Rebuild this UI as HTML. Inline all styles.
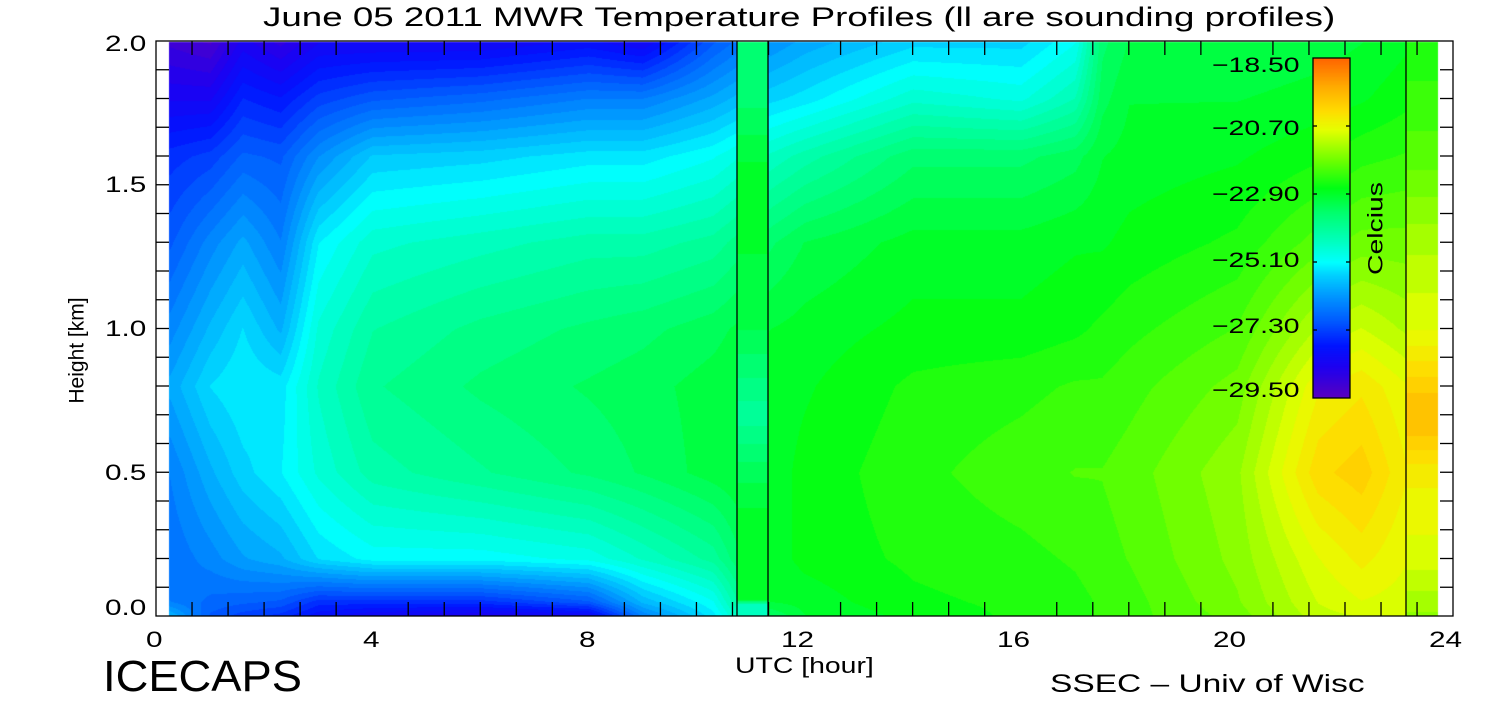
<!DOCTYPE html>
<html><head><meta charset="utf-8">
<style>
body{margin:0;background:#fff;width:1500px;height:700px;overflow:hidden;position:relative;font-family:"Liberation Sans",sans-serif;}
.t{position:absolute;color:#000;white-space:nowrap;line-height:1;transform-origin:left top;transform:scaleX(1.35);}
canvas{position:absolute;left:0;top:0;}
</style></head><body>
<canvas id="c" width="1500" height="700"></canvas>
<svg width="1500" height="700" style="position:absolute;left:0;top:0">
<g id="ax" stroke="#000" stroke-width="1.3" fill="none"></g>
</svg>
<div class="t" style="left:263px;top:4px;font-size:27px;transform:scaleX(1.36)">June 05 2011 MWR Temperature Profiles (ll are sounding profiles)</div>
<div class="t" style="left:105px;top:33px;font-size:22px">2.0</div>
<div class="t" style="left:105px;top:174px;font-size:22px">1.5</div>
<div class="t" style="left:105px;top:318px;font-size:22px">1.0</div>
<div class="t" style="left:105px;top:462px;font-size:22px">0.5</div>
<div class="t" style="left:105px;top:597px;font-size:22px">0.0</div>
<div class="t" style="left:146px;top:629px;font-size:22px">0</div>
<div class="t" style="left:363px;top:629px;font-size:22px">4</div>
<div class="t" style="left:579px;top:629px;font-size:22px">8</div>
<div class="t" style="left:781px;top:629px;font-size:22px">12</div>
<div class="t" style="left:997px;top:629px;font-size:22px">16</div>
<div class="t" style="left:1213px;top:629px;font-size:22px">20</div>
<div class="t" style="left:1429px;top:629px;font-size:22px">24</div>
<div class="t" style="left:735px;top:655px;font-size:22px;transform:scaleX(1.29)">UTC [hour]</div>
<div class="t" style="left:103px;top:655px;font-size:44px;transform:scaleX(1.03)">ICECAPS</div>
<div class="t" style="left:1050px;top:672px;font-size:25px;transform:scaleX(1.34)">SSEC – Univ of Wisc</div>
<div class="t" style="left:22px;top:340px;font-size:21px;transform:rotate(-90deg);transform-origin:center;width:110px;text-align:center">Height [km]</div>
<div class="t" style="left:1336px;top:218px;font-size:21px;transform:rotate(-90deg) scaleX(1.35);transform-origin:center;width:80px;text-align:center">Celcius</div>
<div class="t" style="left:1212px;top:55px;font-size:21px">−18.50</div>
<div class="t" style="left:1212px;top:118px;font-size:21px">−20.70</div>
<div class="t" style="left:1212px;top:184px;font-size:21px">−22.90</div>
<div class="t" style="left:1212px;top:250px;font-size:21px">−25.10</div>
<div class="t" style="left:1212px;top:316px;font-size:21px">−27.30</div>
<div class="t" style="left:1212px;top:380px;font-size:21px">−29.50</div>
<script>
function cmap(v){
 var s=[[-29.5,90,0,190],[-28.5,30,0,240],[-27.8,0,20,255],[-27.0,0,90,255],[-26.2,0,150,255],[-25.5,0,210,255],[-25.1,0,255,255],[-24.3,0,255,180],[-23.5,0,255,110],[-22.7,0,255,20],[-21.8,110,255,0],[-20.8,230,255,0],[-20.2,255,220,0],[-19.4,255,170,0],[-18.5,255,100,0]];
 if(v<=s[0][0])return s[0].slice(1);
 for(var i=1;i<s.length;i++){if(v<=s[i][0]){var a=s[i-1],b=s[i],f=(v-a[0])/(b[0]-a[0]);return [a[1]+f*(b[1]-a[1]),a[2]+f*(b[2]-a[2]),a[3]+f*(b[3]-a[3])];}}
 return s[s.length-1].slice(1);
}
var H=[0,0.05,0.2,0.5,0.8,1.0,1.3,1.6,1.8,2.0];
var cols=[
[0.25,[-25.8,-26.5,-26.7,-26.5,-26,-26.4,-27,-27.5,-28.3,-29]],
[1,[-27,-26.8,-26.4,-25.9,-25.4,-25.8,-26.4,-27.3,-28.3,-29.2]],
[1.6,[-27.3,-26.9,-26.1,-25.5,-25.2,-25.4,-26,-26.9,-27.6,-28.4]],
[2.3,[-27.5,-27,-25.9,-25.2,-25.3,-25.9,-26.5,-27,-27.8,-28.8]],
[3,[-28,-27.5,-25.4,-24.7,-24.5,-24.7,-25.2,-26.3,-27.3,-28.3]],
[4,[-28.3,-27.5,-25.1,-24.2,-23.9,-24.1,-24.6,-25.6,-27,-28.3]],
[6,[-28.5,-27.5,-25.1,-23.9,-23.6,-23.8,-24.4,-25.5,-26.8,-28.3]],
[8,[-28.3,-27,-24.9,-23.6,-23.4,-23.6,-24.2,-25.3,-26.5,-28]],
[9,[-26.5,-25.8,-24.5,-23.4,-23.3,-23.5,-24.2,-25.3,-26.5,-28.3]],
[10.3,[-25.3,-25,-24,-23.1,-23.1,-23.3,-24,-25,-26,-27]],
[11.3,[-23.5,-23,-22.9,-22.9,-22.9,-23,-23.5,-24.5,-25.5,-26.3]],
[12,[-23,-22.9,-22.7,-22.7,-22.8,-22.9,-23.2,-24.2,-25.3,-26]],
[14,[-22.7,-22.6,-22.5,-22.4,-22.5,-22.7,-22.9,-23.5,-24.6,-25.5]],
[16,[-22.5,-22.5,-22.4,-22.2,-22.4,-22.7,-22.9,-23.5,-24.8,-25.5]],
[17,[-22.4,-22.4,-22.3,-22.1,-22.3,-22.6,-22.8,-23.3,-24.3,-25]],
[17.5,[-22.3,-22.3,-22.2,-22.1,-22.3,-22.5,-22.8,-23,-23.3,-23.5]],
[18,[-22.2,-22.2,-22.1,-22,-22.2,-22.4,-22.7,-22.9,-23,-23.2]],
[20,[-21.8,-21.7,-21.6,-21.5,-21.8,-22.1,-22.5,-22.8,-23,-23.2]],
[21.5,[-21.1,-21,-20.8,-20.2,-20.6,-21.2,-22,-22.6,-22.9,-23.1]],
[22.3,[-21,-20.8,-20.5,-20,-20.4,-21,-21.8,-22.4,-22.8,-23]],
[23.2,[-21,-20.9,-20.8,-20.6,-20.8,-21.3,-21.8,-22.3,-22.6,-22.8]]];
var s1H=[0,0.04,0.06,0.3,0.5,0.7,1.0,1.5,1.8,2.0], s1V=[-24.5,-24.5,-22.8,-22.8,-23.3,-24,-23.2,-22.8,-23.5,-23.5];
var s2H=[0,0.2,0.5,0.65,0.75,0.9,1.0,1.3,1.6,2.0], s2V=[-21.5,-20.9,-20.5,-19.8,-19.8,-20.4,-20.8,-21.3,-22,-22.5];
function i1(xs,ys,x){if(x<=xs[0])return ys[0];for(var i=1;i<xs.length;i++)if(x<=xs[i]){var f=(x-xs[i-1])/(xs[i]-xs[i-1]);return ys[i-1]+f*(ys[i]-ys[i-1]);}return ys[ys.length-1];}
function field(t,h){
 if(t<=cols[0][0])return i1(H,cols[0][1],h);
 for(var i=1;i<cols.length;i++)if(t<=cols[i][0]){var f=(t-cols[i-1][0])/(cols[i][0]-cols[i-1][0]);return (1-f)*i1(H,cols[i-1][1],h)+f*i1(H,cols[i][1],h);}
 return i1(H,cols[cols.length-1][1],h);
}
var c=document.getElementById('c').getContext('2d');
var X0=169,X1=1438,Y0=42,Y1=616;
var img=c.createImageData(X1-X0,Y1-Y0);
for(var y=Y0;y<Y1;y++){var h=(616-y)/287.5;
 for(var x=X0;x<X1;x++){var t=(x-156)/54.04,v;
  if(x>=737&&x<768)v=i1(s1H,s1V,h);else if(x>=1406)v=i1(s2H,s2V,h);else v=field(t,h);
  v=Math.round(v/0.22)*0.22;var col=cmap(v);var k=((y-Y0)*(X1-X0)+(x-X0))*4;
  img.data[k]=col[0];img.data[k+1]=col[1];img.data[k+2]=col[2];img.data[k+3]=255;}}
c.putImageData(img,X0,Y0);
for(var y=58;y<398;y++){var v=-18.5-(y-58)/340*11;var col=cmap(v);c.fillStyle='rgb('+col.map(Math.round).join(',')+')';c.fillRect(1313,y,37,1);}
var g=document.getElementById('ax'),s='';
s+='<rect x="156" y="41" width="1297" height="575"/>';
s+='<line x1="737" y1="41" x2="737" y2="616"/><line x1="768" y1="41" x2="768" y2="616"/><line x1="1406" y1="41" x2="1406" y2="616"/>';
s+='<rect x="1313" y="58" width="37" height="340"/>';
for(var i=0;i<=36;i++){var x=156+i*36.03;var L=(i%6==0)?0:14;if(L){s+='<line x1="'+x+'" y1="41" x2="'+x+'" y2="'+(41+L)+'"/><line x1="'+x+'" y1="616" x2="'+x+'" y2="'+(616-L)+'"/>';}}
for(var i=1;i<20;i++){var y=616-i*28.75;s+='<line x1="156" y1="'+y+'" x2="169" y2="'+y+'"/><line x1="1453" y1="'+y+'" x2="1440" y2="'+y+'"/>';}
for(var i=1;i<5;i++){var y=58+i*68;s+='<line x1="1313" y1="'+y+'" x2="1317" y2="'+y+'"/><line x1="1350" y1="'+y+'" x2="1346" y2="'+y+'"/>';}
g.innerHTML=s;
</script>
</body></html>
